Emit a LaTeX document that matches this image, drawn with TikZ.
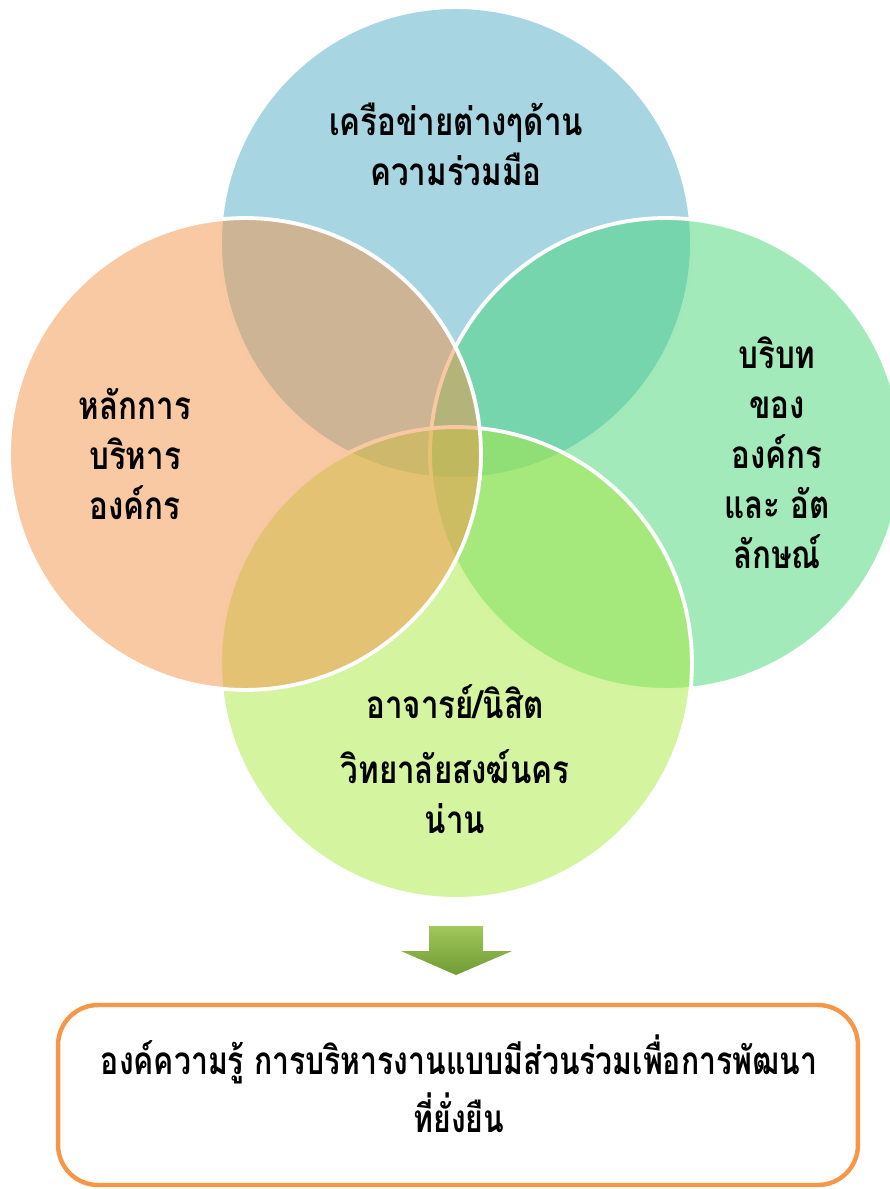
\documentclass[tikz,border=0pt]{standalone}
\usepackage{fontspec}
\newfontfamily\thaifont[Script=Thai, FakeStretch=0.81]{Loma}
\newfontfamily\thaicond[Script=Thai, FakeStretch=0.78]{Loma}
\definecolor{vennblue}{RGB}{79,171,197}
\definecolor{vennorange}{RGB}{243,147,71}
\definecolor{venngreen}{RGB}{71,213,119}
\definecolor{vennlime}{RGB}{169,233,65}
\definecolor{boxorange}{RGB}{247,150,70}
\definecolor{arrowtop}{RGB}{160,200,90}
\definecolor{arrowbot}{RGB}{112,155,52}
\tikzset{
  venn/.style={circle, draw=white, line width=2.2pt, fill=#1, fill opacity=0.5,
    minimum size=9.44cm, inner sep=0pt},
  label/.style={align=center, text=black,
    font=\thaifont\bfseries\fontsize{22}{28.45}\selectfont},
  sumlabel/.style={align=center, text=black,
    font=\thaicond\bfseries\fontsize{22}{33}\selectfont},
  sumbox/.style={draw=boxorange, line width=2.5pt, rounded corners=0.8cm,
    minimum width=16cm, minimum height=3.6cm, fill=white}
}
\begin{document}
\begin{tikzpicture}[x=0.02cm, y=-0.02cm]
  \useasboundingbox (0,0) rectangle (889,1189);
  \node[venn=vennblue] (network) at (456,243) {};
  \node[venn=venngreen] (context) at (666,454) {};
  \node[venn=vennlime] (people) at (456,663) {};
  \node[venn=vennorange] (principle) at (245,454) {};
  \node[label] (networktext) at (456,144) {เครือข่ายต่างๆด้าน\\ความร่วมมือ};
  \node[label] (principletext) at (135,454) {หลักการ\\บริหาร\\องค์กร};
  \node[label] (contexttext) at (777,453) {บริบท\\ของ\\องค์กร\\และ อัต\\ลักษณ์};
  \node[label] (peopletext) at (455,759) {อาจารย์/นิสิต\\[0.3cm]วิทยาลัยสงฆ์นคร\\น่าน};
  \shade[top color=arrowtop, bottom color=arrowbot]
    (429,926) -- (483,926) -- (483,951) -- (512,951) -- (456,975)
    -- (401,951) -- (429,951) -- cycle;
  \node[sumbox] (knowledge) at (458,1095) {};
  \node[sumlabel] (knowledgetext) at (459,1084)
    {องค์ความรู้ การบริหารงานแบบมีส่วนร่วมเพื่อการพัฒนา\\ที่ยั่งยืน};
\end{tikzpicture}
\end{document}
